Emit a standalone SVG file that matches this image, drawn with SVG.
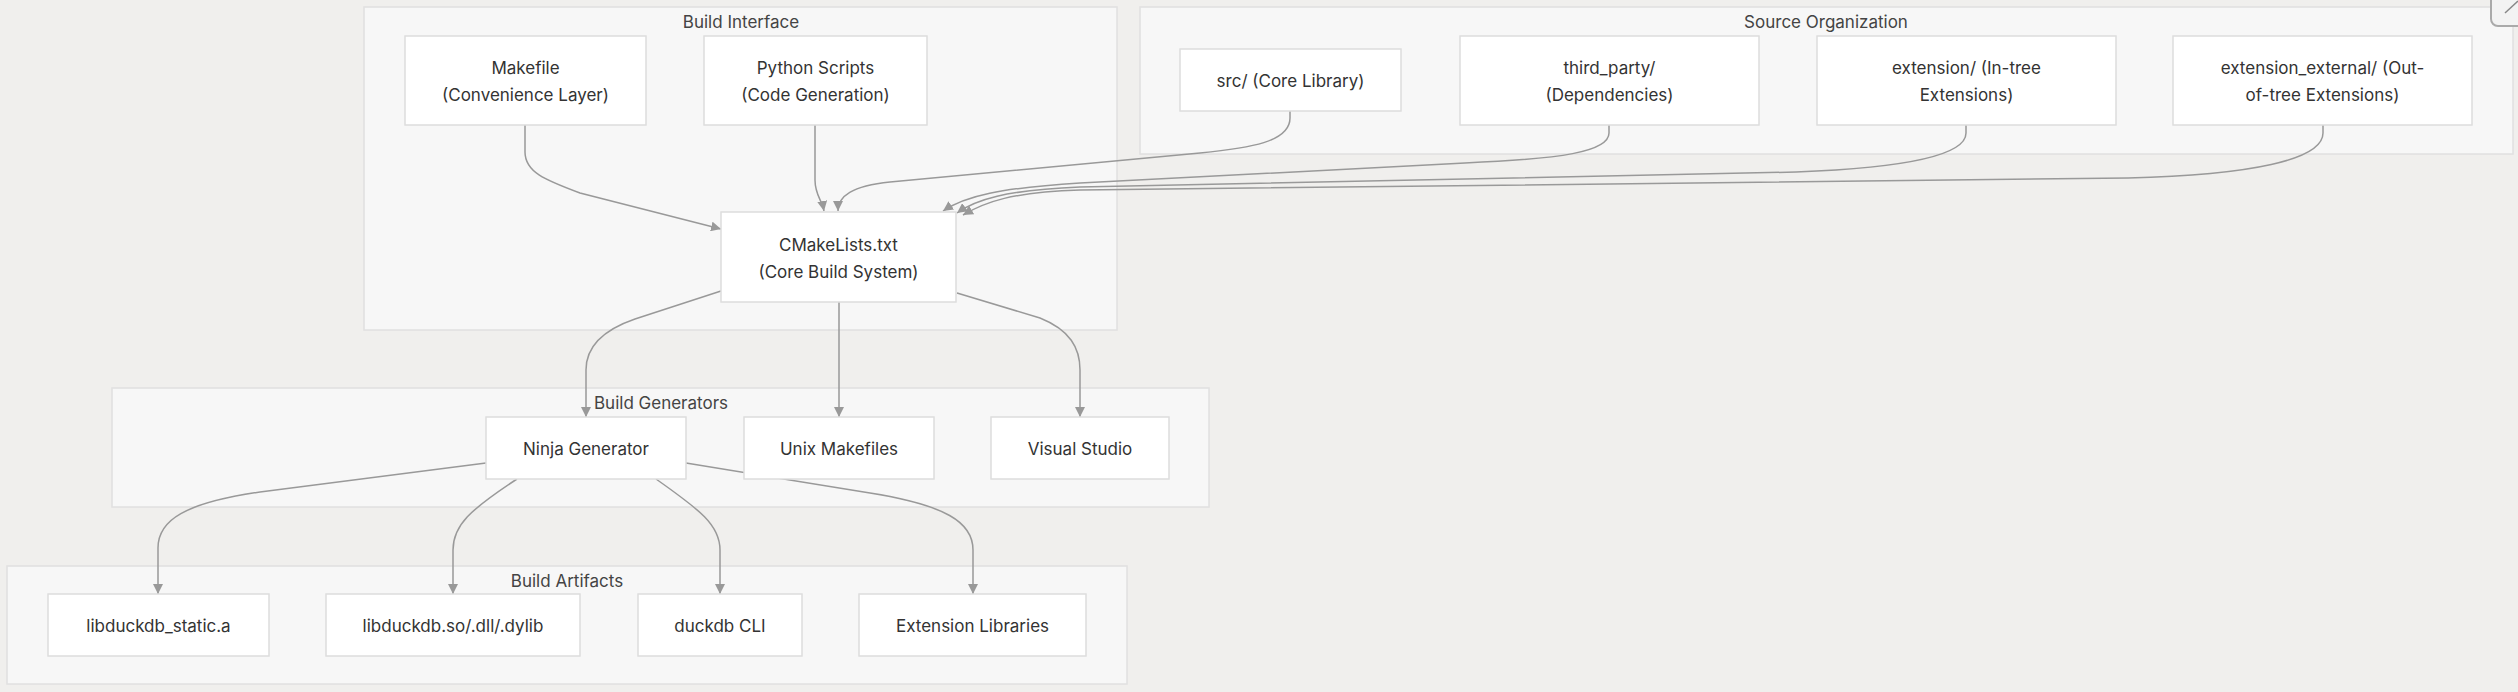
<svg xmlns="http://www.w3.org/2000/svg" width="2518" height="692" viewBox="0 0 2518 692">
<defs>
<style>
.bg{fill:#f0efed}
.cluster{fill:#f7f7f7;stroke:#e0e0e0;stroke-width:1.5}
.node{fill:#ffffff;stroke:#dddddd;stroke-width:1.5}
.t{font-family:Inter,"Liberation Sans",sans-serif;font-size:17px;fill:#333333;text-anchor:middle}
.ct{font-family:Inter,"Liberation Sans",sans-serif;font-size:17px;fill:#444444;text-anchor:middle}
.e{fill:none;stroke:#999999;stroke-width:1.5;marker-end:url(#arr)}
</style>
<marker id="arr" viewBox="0 0 10 10" refX="10" refY="5" markerWidth="10" markerHeight="10" markerUnits="userSpaceOnUse" orient="auto">
<path d="M0,0 L10,5 L0,10 z" fill="#999999"/>
</marker>
</defs>
<rect class="bg" x="0" y="0" width="2518" height="692"/>
<g id="clusters">
<g id="cluster-build-interface">
<rect class="cluster" x="364" y="7" width="753" height="323"/>
<text class="ct" x="741" y="28">Build Interface</text>
</g>
<g id="cluster-source-organization">
<rect class="cluster" x="1140" y="7" width="1373" height="147"/>
<text class="ct" x="1826" y="28">Source Organization</text>
</g>
<g id="cluster-build-generators">
<rect class="cluster" x="112" y="388" width="1097" height="119"/>
<text class="ct" x="661" y="409">Build Generators</text>
</g>
<g id="cluster-build-artifacts">
<rect class="cluster" x="7" y="566" width="1120" height="118"/>
<text class="ct" x="567" y="587">Build Artifacts</text>
</g>
</g>
<g id="connectors">
<path class="e" d="M525,125 V152 C525,172 545,180 580,193 L721,229"/>
<path class="e" d="M815,125 V180 C815,195 822,200 824,211"/>
<path class="e" d="M1290,111 V118 C1290,142 1250,148 1200,153 L890,182 C852,186 838,196 838,211"/>
<path class="e" d="M1609,125 V133 C1609,152 1560,159 1465,163 L1080,183 C1000,188 965,196 943,211"/>
<path class="e" d="M1966,125 V133 C1966,156 1900,168 1796,172 L1080,187 C1005,190 975,200 957,213"/>
<path class="e" d="M2323,125 V133 C2323,160 2250,175 2128,178 L1080,190 C1012,192 985,202 963,215"/>
<path class="e" d="M721,291 L635,319 C600,331 586,348 586,370 V417"/>
<path class="e" d="M839,302 V417"/>
<path class="e" d="M957,293 L1040,318 C1070,330 1080,348 1080,370 V417"/>
<path class="e" d="M486,463 L260,492 C185,503 158,520 158,548 V594"/>
<path class="e" d="M517,479 C470,510 453,525 453,550 V594"/>
<path class="e" d="M656,479 C700,510 720,525 720,550 V594"/>
<path class="e" d="M686,463 L870,493 C945,505 973,522 973,550 V594"/>
</g>
<g id="nodes">
<g id="node-makefile">
<rect class="node" x="405" y="36" width="241" height="89"/>
<text class="t" x="525.5" y="74">Makefile</text>
<text class="t" x="525.5" y="101">(Convenience Layer)</text>
</g>
<g id="node-python">
<rect class="node" x="704" y="36" width="223" height="89"/>
<text class="t" x="815.5" y="74">Python Scripts</text>
<text class="t" x="815.5" y="101">(Code Generation)</text>
</g>
<g id="node-cmake">
<rect class="node" x="721" y="212" width="235" height="90"/>
<text class="t" x="838.5" y="251">CMakeLists.txt</text>
<text class="t" x="838.5" y="278">(Core Build System)</text>
</g>
<g id="node-src">
<rect class="node" x="1180" y="49" width="221" height="62"/>
<text class="t" x="1290.5" y="87">src/ (Core Library)</text>
</g>
<g id="node-third-party">
<rect class="node" x="1460" y="36" width="299" height="89"/>
<text class="t" x="1609.5" y="74">third_party/</text>
<text class="t" x="1609.5" y="101">(Dependencies)</text>
</g>
<g id="node-extension">
<rect class="node" x="1817" y="36" width="299" height="89"/>
<text class="t" x="1966.5" y="74">extension/ (In-tree</text>
<text class="t" x="1966.5" y="101">Extensions)</text>
</g>
<g id="node-extension-external">
<rect class="node" x="2173" y="36" width="299" height="89"/>
<text class="t" x="2322.5" y="74">extension_external/ (Out-</text>
<text class="t" x="2322.5" y="101">of-tree Extensions)</text>
</g>
<g id="node-ninja">
<rect class="node" x="486" y="417" width="200" height="62"/>
<text class="t" x="586" y="455">Ninja Generator</text>
</g>
<g id="node-unix">
<rect class="node" x="744" y="417" width="190" height="62"/>
<text class="t" x="839" y="455">Unix Makefiles</text>
</g>
<g id="node-vs">
<rect class="node" x="991" y="417" width="178" height="62"/>
<text class="t" x="1080" y="455">Visual Studio</text>
</g>
<g id="node-static">
<rect class="node" x="48" y="594" width="221" height="62"/>
<text class="t" x="158.5" y="632">libduckdb_static.a</text>
</g>
<g id="node-shared">
<rect class="node" x="326" y="594" width="254" height="62"/>
<text class="t" x="453" y="632">libduckdb.so/.dll/.dylib</text>
</g>
<g id="node-cli">
<rect class="node" x="638" y="594" width="164" height="62"/>
<text class="t" x="720" y="632">duckdb CLI</text>
</g>
<g id="node-extlibs">
<rect class="node" x="859" y="594" width="227" height="62"/>
<text class="t" x="972.5" y="632">Extension Libraries</text>
</g>
</g>
<g id="corner-button">
<rect x="2491" y="-12" width="44" height="38" rx="7" fill="#f3f3f3" stroke="#aaaaaa" stroke-width="2"/>
<line x1="2505" y1="13" x2="2518" y2="1" stroke="#888888" stroke-width="1.5"/>
</g>
</svg>
